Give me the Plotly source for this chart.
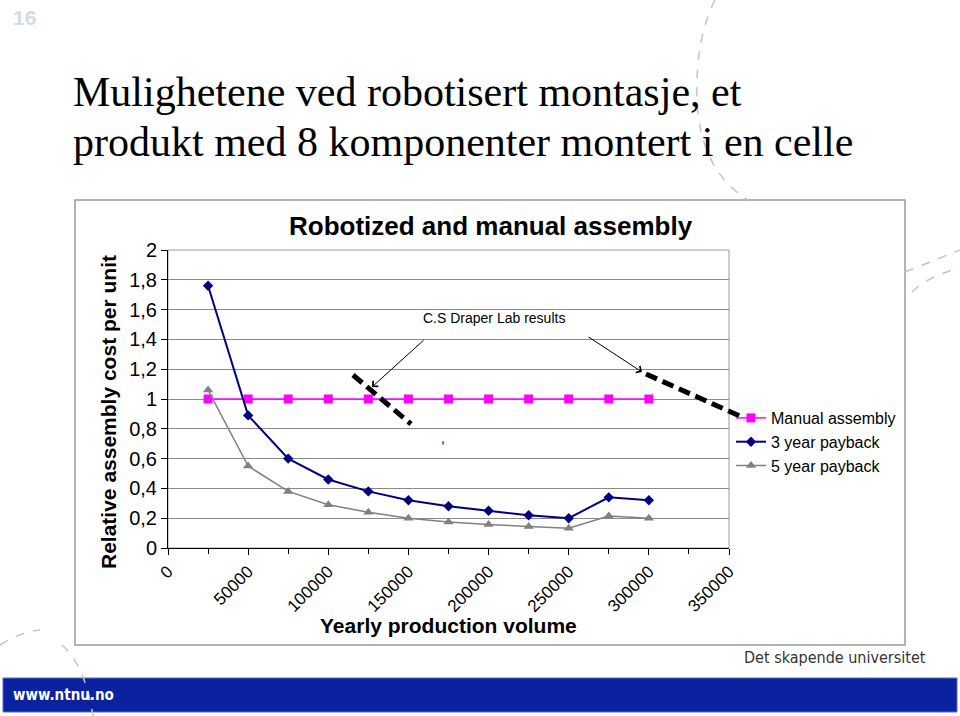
import plotly.graph_objects as go

# --- data ---
volume = [25000, 50000, 75000, 100000, 125000, 150000, 175000, 200000, 225000, 250000, 275000, 300000]
manual = [1, 1, 1, 1, 1, 1, 1, 1, 1, 1, 1, 1]
payback_3y = [1.76, 0.89, 0.60, 0.46, 0.38, 0.32, 0.28, 0.25, 0.22, 0.20, 0.34, 0.32]
payback_5y = [1.06, 0.55, 0.38, 0.29, 0.24, 0.20, 0.175, 0.157, 0.145, 0.133, 0.215, 0.20]

y_ticks = [0, 0.2, 0.4, 0.6, 0.8, 1, 1.2, 1.4, 1.6, 1.8, 2]
y_labels = ["0", "0,2", "0,4", "0,6", "0,8", "1", "1,2", "1,4", "1,6", "1,8", "2"]
x_ticks = [0, 50000, 100000, 150000, 200000, 250000, 300000, 350000]
x_labels = ["0", "50000", "100000", "150000", "200000", "250000", "300000", "350000"]

W, H = 960, 716
ML, MR, MT, MB = 168, 231, 250, 168
PW, PH = W - ML - MR, H - MT - MB

ARIAL = "Liberation Sans, Arial, sans-serif"
NARROW = "DejaVu Sans Condensed, DejaVu Sans, sans-serif"


def px(x):
    # page pixel -> paper x
    return (x - ML) / PW


def py(y):
    # page pixel -> paper y
    return (H - MB - y) / PH


fig = go.Figure()

fig.add_trace(go.Scatter(
    x=volume, y=manual, mode="lines+markers", name="Manual assembly",
    line=dict(color="#ff00ff", width=1.5),
    marker=dict(symbol="square", size=9, color="#ff00ff"),
))
fig.add_trace(go.Scatter(
    x=volume, y=payback_3y, mode="lines+markers", name="3 year payback",
    line=dict(color="#000080", width=2),
    marker=dict(symbol="diamond", size=8, color="#000080"),
))
fig.add_trace(go.Scatter(
    x=volume, y=payback_5y, mode="lines+markers", name="5 year payback",
    line=dict(color="#808080", width=1.5),
    marker=dict(symbol="triangle-up", size=9, color="#808080"),
))

shapes = []
# outer chart frame
shapes.append(dict(type="rect", xref="paper", yref="paper",
                   x0=px(75), x1=px(905), y0=py(645), y1=py(200),
                   line=dict(color="#9a9a9a", width=1.5), layer="below"))
# plot area border
shapes.append(dict(type="rect", xref="paper", yref="paper",
                   x0=0, x1=1, y0=0, y1=1,
                   line=dict(color="#9a9a9a", width=1), layer="below"))
# white box behind the annotation text
shapes.append(dict(type="rect", xref="paper", yref="paper",
                   x0=px(408), x1=px(607), y0=py(345), y1=py(290),
                   fillcolor="white", line=dict(width=0), layer="between"))
# thick dashed markers
shapes.append(dict(type="line", xref="paper", yref="paper",
                   x0=px(353), y0=py(375), x1=px(411), y1=py(424),
                   line=dict(color="black", width=5, dash="12px,6px")))
shapes.append(dict(type="line", xref="paper", yref="paper",
                   x0=px(646), y0=py(374), x1=px(742), y1=py(417),
                   line=dict(color="black", width=5, dash="12px,6px")))
# footer bar
shapes.append(dict(type="rect", xref="paper", yref="paper",
                   x0=px(3), x1=px(957), y0=py(712), y1=py(678),
                   fillcolor="#0a22a0", line=dict(color="#5a6cc0", width=1)))


def arc(points):
    p = "M {} {}".format(px(points[0][0]), py(points[0][1]))
    for i in range(1, len(points) - 1, 2):
        c, e = points[i], points[i + 1]
        p += " Q {} {} {} {}".format(px(c[0]), py(c[1]), px(e[0]), py(e[1]))
    return p


# decorative dashed arcs
for pts in [
    [(715, 0), (695, 40), (697, 100), (700, 170), (748, 200)],
    [(905, 272), (930, 262), (960, 250)],
    [(912, 292), (928, 276), (960, 268)],
    [(0, 645), (20, 632), (40, 630)],
    [(62, 645), (85, 665), (93, 716)],
]:
    shapes.append(dict(type="path", xref="paper", yref="paper", path=arc(pts),
                       line=dict(color="#c4c4c4", width=1.5, dash="dash")))

annotations = [
    dict(text="<b>16</b>", x=px(11), y=py(17), xanchor="left", yanchor="middle",
         showarrow=False, font=dict(family=ARIAL, size=21, color="#d3dbe5"),
         xref="paper", yref="paper"),
    dict(text="Mulighetene ved robotisert montasje, et",
         x=px(71), y=py(92), xanchor="left", yanchor="middle", align="left",
         showarrow=False, xref="paper", yref="paper",
         font=dict(family="Liberation Serif, Times New Roman, serif", size=42, color="black")),
    dict(text="produkt med 8 komponenter montert i en celle",
         x=px(71), y=py(142), xanchor="left", yanchor="middle", align="left",
         showarrow=False, xref="paper", yref="paper",
         font=dict(family="Liberation Serif, Times New Roman, serif", size=42, color="black")),
    dict(text="<b>Robotized and manual assembly</b>", x=px(491), y=py(226),
         xanchor="center", yanchor="middle", showarrow=False, xref="paper", yref="paper",
         font=dict(family=ARIAL, size=26, color="black")),
    dict(text="<b>Relative assembly cost per unit</b>", x=px(108), y=py(412),
         textangle=-90, xanchor="center", yanchor="middle", showarrow=False,
         xref="paper", yref="paper", font=dict(family=ARIAL, size=21, color="black")),
    dict(text="<b>Yearly production volume</b>", x=px(448), y=py(625),
         xanchor="center", yanchor="middle", showarrow=False, xref="paper", yref="paper",
         font=dict(family=ARIAL, size=21, color="black")),
    dict(text="C.S Draper Lab results", x=px(421), y=py(318),
         xanchor="left", yanchor="middle", showarrow=False, xref="paper", yref="paper",
         font=dict(family=ARIAL, size=14, color="black")),
    dict(text=",", x=px(443), y=py(438), xanchor="center", yanchor="middle",
         showarrow=False, xref="paper", yref="paper",
         font=dict(family=ARIAL, size=14, color="black")),
    # arrows
    dict(text="", x=px(372), y=py(387), ax=53, ay=-48, showarrow=True,
         arrowhead=4, arrowsize=1.5, arrowwidth=1, arrowcolor="black",
         xref="paper", yref="paper"),
    dict(text="", x=px(642), y=py(372), ax=-55, ay=-36, showarrow=True,
         arrowhead=4, arrowsize=1.5, arrowwidth=1, arrowcolor="black",
         xref="paper", yref="paper"),
    dict(text="<b>www.ntnu.no</b>", x=px(11), y=py(695), xanchor="left", yanchor="middle",
         showarrow=False, xref="paper", yref="paper",
         font=dict(family=NARROW, size=15, color="white")),
    dict(text="Det skapende universitet", x=px(928), y=py(657), xanchor="right",
         yanchor="middle", showarrow=False, xref="paper", yref="paper",
         font=dict(family=NARROW, size=16, color="#333333")),
]

fig.update_layout(
    width=W, height=H,
    margin=dict(l=ML, r=MR, t=MT, b=MB, autoexpand=False),
    paper_bgcolor="white", plot_bgcolor="white",
    showlegend=True,
    legend=dict(x=px(731), y=py(401), xanchor="left", yanchor="top",
                font=dict(family=ARIAL, size=16, color="black"),
                bgcolor="rgba(0,0,0,0)", tracegroupgap=0, itemwidth=30),
    shapes=shapes,
    annotations=annotations,
    font=dict(family=ARIAL, color="black"),
)

fig.update_xaxes(
    range=[0, 350000], tickvals=x_ticks, ticktext=x_labels, tickangle=-45,
    tickfont=dict(family=ARIAL, size=17, color="black"),
    showgrid=False, zeroline=False, showline=True, linecolor="black", linewidth=1,
    ticks="outside", ticklen=6, tickcolor="black",
    minor=dict(ticks="outside", dtick=25000, ticklen=5, tickcolor="black"),
)
fig.update_yaxes(
    range=[0, 2], tickvals=y_ticks, ticktext=y_labels,
    tickfont=dict(family=ARIAL, size=20, color="black"),
    showgrid=True, gridcolor="#8a8a8a", gridwidth=1, zeroline=False,
    showline=True, linecolor="black", linewidth=1,
    ticks="outside", ticklen=6, tickcolor="black",
)

fig.write_html("out.html", config={"displayModeBar": False},
               post_script="document.body.style.margin='0';")
